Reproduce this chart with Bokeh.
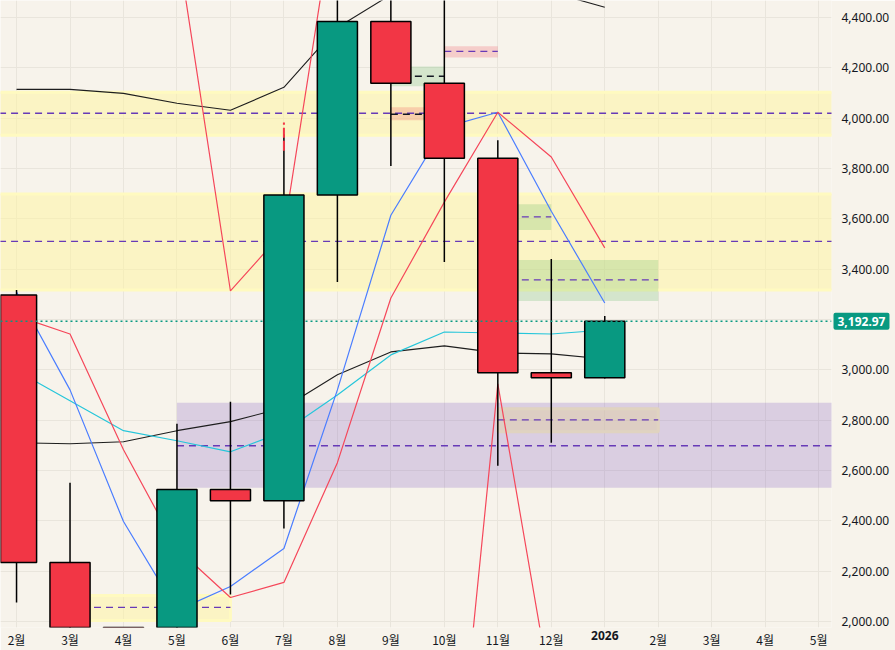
import numpy as np
from bokeh.plotting import figure
from bokeh.models import (Range1d, FixedTicker, NumeralTickFormatter, Label, ColumnDataSource,
                          Span, LinearAxis, Grid)
from bokeh.embed import file_html
from bokeh.resources import INLINE

# ---------------- data ----------------
month_labels = ["2월", "3월", "4월", "5월", "6월", "7월", "8월", "9월", "10월", "11월", "12월",
                "2026", "2월", "3월", "4월", "5월"]
candle_idx = [0, 1, 2, 3, 4, 5, 6, 7, 8, 9, 10, 11]
opens  = [3297, 2234, 1900, 1860, 2524, 2480, 3694, 4384, 4138, 3840, 2988, 2968]
highs  = [3317, 2551, 1930, 2785, 2873, 3936, 4520, 4600, 4560, 3912, 3440, 3214]
lows   = [2075, 1800, 1600, 1700, 2107, 2369, 3349, 3809, 3428, 2619, 2710, 2965]
closes = [2234, 1900, 1860, 2524, 2480, 3694, 4384, 4138, 3840, 2988, 2968, 3192.97]
last_price = 3192.97
last_price_text = "3,192.97"

ma_slow  = [4114, 4114, 4098, 4059, 4031, 4122, 4360, 4490, 4520, 4515, 4500, 4440]
ma_mid   = [2710, 2706, 2714, 2758, 2794, 2849, 2980, 3071, 3095, 3067, 3063, 3043]
ma_cyan  = [2996, 2877, 2758, 2718, 2674, 2754, 2900, 3059, 3150, 3146, 3142, 3158]
ma_blue  = [3309, 2920, 2397, 2044, 2139, 2290, 2920, 3614, 3963, 4023, 3630, 3265]
ma_red   = [3214, 3142, 2682, 2290, 2095, 2155, 2631, 3285, 3666, 4023, 3845, 3484]
osc_red  = [np.nan, np.nan, np.nan, 4700, 3313, 3551, 4905, np.nan, 822, 2944, 1710, np.nan]

yellow_left   = [-1, -1, 9.0, 1.0]
yellow_right  = [16, 16, 12.0, 4.0]
yellow_top    = [4102, 3698, 2845, 2103]
yellow_bottom = [3932, 3317, 2754, 2004]
yellow_mid    = [4019, 3510, 2801, 2056]

purple_left, purple_right = [3.0], [16]
purple_top, purple_bottom, purple_mid = [2869], [2531], [2698]

green_left   = [9.0, 9.0, 7.0]
green_right  = [10.0, 12.0, 8.0]
green_top    = [3658, 3436, 4205]
green_bottom = [3555, 3273, 4126]
green_mid    = [3607, 3357, 4166]

pink_left   = [7.0, 8.0]
pink_right  = [8.0, 9.0]
pink_top    = [4043, 4285]
pink_bottom = [3991, 4241]
pink_mid    = [4015, 4265]

wick_mark_x, wick_mark_top, wick_mark_bottom = [5], [3982], [3870]

y_ticks = [2000, 2200, 2400, 2600, 2800, 3000, 3200, 3400, 3600, 3800, 4000, 4200, 4400]

# ---------------- styling ----------------
BG = "#f7f3eb"
GRID = "#e9e5dc"
UP = "#089981"
DOWN = "#f23645"
DASH_PURPLE = "#673ab7"
TXT = "#131722"

p = figure(width=895, height=650, x_range=Range1d(-0.30, 15.24), y_range=Range1d(1976, 4467),
           output_backend="svg", toolbar_location=None,
           x_axis_location=None, y_axis_location=None,
           min_border_left=0, min_border_top=0, min_border_bottom=22, min_border_right=64,
           background_fill_color=BG, border_fill_color=BG)
p.outline_line_color = None
p.center = [r for r in p.center if not isinstance(r, Grid)]

x_ticker = FixedTicker(ticks=list(range(len(month_labels))))
y_ticker = FixedTicker(ticks=y_ticks)
p.add_layout(Grid(dimension=0, ticker=x_ticker, grid_line_color=GRID), "center")
p.add_layout(Grid(dimension=1, ticker=y_ticker, grid_line_color=GRID), "center")

# zones
p.quad(left=yellow_left, right=yellow_right, top=yellow_top, bottom=yellow_bottom,
       fill_color="#fff59d", fill_alpha=0.5, line_color="#fffac0", line_width=3)
p.quad(left=purple_left, right=purple_right, top=purple_top, bottom=purple_bottom,
       fill_color="#7e57c2", fill_alpha=0.24, line_color=None)
p.quad(left=green_left, right=green_right, top=green_top, bottom=green_bottom,
       fill_color="#4caf50", fill_alpha=0.2, line_color=None)
p.quad(left=pink_left, right=pink_right, top=pink_top, bottom=pink_bottom,
       fill_color="#f23645", fill_alpha=0.2, line_color=None)

p.segment(x0=yellow_left, x1=yellow_right, y0=yellow_mid, y1=yellow_mid,
          line_color=DASH_PURPLE, line_dash="7 5", line_width=1.3)
p.segment(x0=purple_left, x1=purple_right, y0=purple_mid, y1=purple_mid,
          line_color=DASH_PURPLE, line_dash="7 5", line_width=1.3)
p.segment(x0=green_left[:2], x1=green_right[:2], y0=green_mid[:2], y1=green_mid[:2],
          line_color=DASH_PURPLE, line_dash="7 5", line_width=1.3)
p.segment(x0=green_left[2:], x1=green_right[2:], y0=green_mid[2:], y1=green_mid[2:],
          line_color=TXT, line_dash="7 5", line_width=1.3)
p.segment(x0=pink_left[:1], x1=pink_right[:1], y0=pink_mid[:1], y1=pink_mid[:1],
          line_color=TXT, line_dash="7 5", line_width=1.3)
p.segment(x0=pink_left[1:], x1=pink_right[1:], y0=pink_mid[1:], y1=pink_mid[1:],
          line_color=DASH_PURPLE, line_dash="7 5", line_width=1.3)

p.add_layout(Span(location=last_price, dimension="width", line_color=UP,
                  line_dash="2 3", line_width=1.5))

# indicator lines
p.line(candle_idx, ma_slow, line_color="#1e1e1e", line_width=1.1)
p.line(candle_idx, ma_mid, line_color="#1e1e1e", line_width=1.1)
p.line(candle_idx, ma_cyan, line_color="#26c6da", line_width=1.2)
p.line(candle_idx, ma_blue, line_color="#4a7dff", line_width=1.2)
p.line(candle_idx, ma_red, line_color="#f5475a", line_width=1.2)
p.line(candle_idx, osc_red, line_color="#f5475a", line_width=1.2)

# candles
colors = [UP if c >= o else DOWN for o, c in zip(opens, closes)]
src = ColumnDataSource(dict(x=candle_idx, o=opens, h=highs, l=lows, c=closes,
                            top=[max(o, c) for o, c in zip(opens, closes)],
                            bot=[min(o, c) for o, c in zip(opens, closes)],
                            col=colors))
p.segment(x0="x", x1="x", y0="l", y1="h", source=src, line_color="black", line_width=1.5)
p.vbar(x="x", width=0.75, top="top", bottom="bot", source=src,
       fill_color="col", line_color="black", line_width=1.5)

p.segment(x0=wick_mark_x, x1=wick_mark_x, y0=wick_mark_bottom, y1=wick_mark_top,
          line_color=DOWN, line_dash="10 3", line_width=2)

# ---- side panels: tag / year label nearest the frame, axes pulled back over them ----
p.add_layout(Label(x=2, x_units="screen", y=last_price, text=last_price_text,
                   text_baseline="middle", text_font="Noto Sans", text_font_style="bold",
                   text_font_size="12px", text_color="white",
                   background_fill_color=UP, padding=4, border_radius=2), "right")

yr = month_labels.index("2026")
p.add_layout(Label(x=yr, y=6, y_units="screen", text="2026", text_align="center",
                   text_baseline="top", text_font="Noto Sans", text_font_style="bold",
                   text_font_size="12px", text_color=TXT), "below")

yaxis = LinearAxis(ticker=y_ticker, formatter=NumeralTickFormatter(format="0,0.00"),
                   major_label_overrides={3200: ""},
                   axis_line_color=None, major_tick_line_color=None, minor_tick_line_color=None,
                   major_tick_out=0, major_tick_in=0,
                   major_label_text_font="Noto Sans", major_label_text_font_size="12px",
                   major_label_text_color=TXT, major_label_standoff=-46)
p.add_layout(yaxis, "right")

xaxis = LinearAxis(ticker=x_ticker,
                   major_label_overrides={i: (lab if lab != "2026" else "")
                                          for i, lab in enumerate(month_labels)},
                   axis_line_color=None, major_tick_line_color=None, minor_tick_line_color=None,
                   major_tick_out=0, major_tick_in=0,
                   major_label_text_font="Noto Sans CJK KR", major_label_text_font_size="12px",
                   major_label_text_color=TXT, major_label_standoff=-6)
p.add_layout(xaxis, "below")

open("out.html", "w").write(file_html(p, INLINE))
